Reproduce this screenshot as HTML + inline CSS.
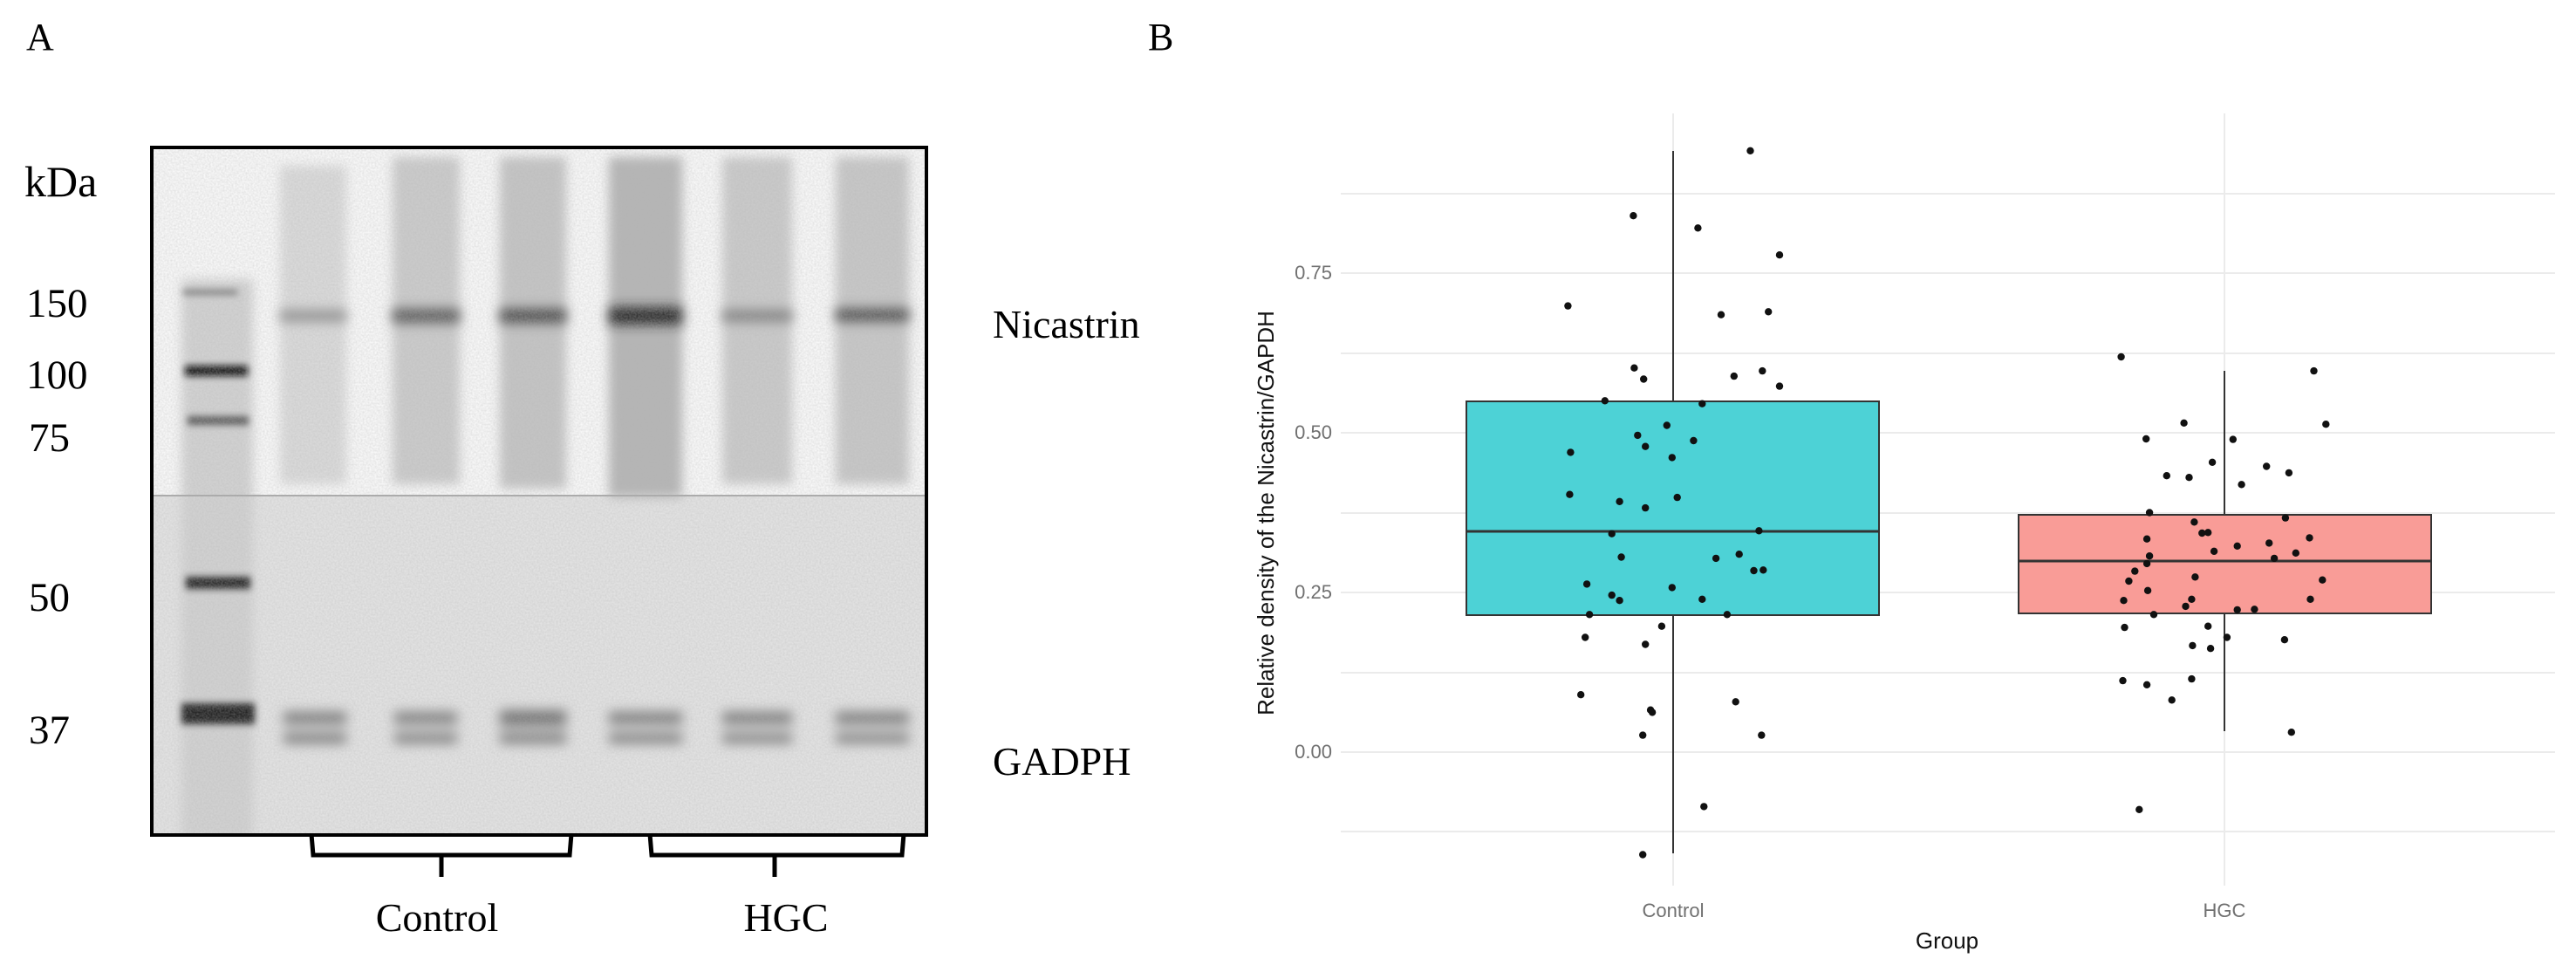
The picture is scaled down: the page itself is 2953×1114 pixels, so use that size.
<!DOCTYPE html>
<html><head><meta charset="utf-8">
<style>
html,body{margin:0;padding:0;background:#fff;}
svg{display:block;}
.t{font-family:"Liberation Serif",serif;fill:#000;}
.s{font-family:"Liberation Sans",sans-serif;}
</style></head>
<body>
<svg id="sv" width="2953" height="1114" viewBox="0 0 2953 1114" xmlns="http://www.w3.org/2000/svg">
<defs>
<filter id="b6" x="-20%" y="-50%" width="140%" height="200%"><feGaussianBlur stdDeviation="7"/></filter>
<filter id="b3" x="-20%" y="-50%" width="140%" height="200%"><feGaussianBlur stdDeviation="4"/></filter>
<filter id="b10" x="-30%" y="-10%" width="160%" height="120%"><feGaussianBlur stdDeviation="6"/></filter>
<filter id="noise" x="0" y="0" width="100%" height="100%"><feTurbulence type="fractalNoise" baseFrequency="0.5" numOctaves="2" seed="3"/><feColorMatrix values="0 0 0 0 0.45  0 0 0 0 0.45  0 0 0 0 0.45  0 0 0 0.5 -0.1"/></filter>
<clipPath id="cb"><rect x="175" y="170" width="886" height="786"/></clipPath>
</defs>
<rect width="2953" height="1114" fill="#fff"/>
<!-- Panel A -->
<text class="t" x="30" y="57" font-size="44">A</text>
<text class="t" x="28" y="225" font-size="50">kDa</text>
<text class="t" x="30" y="363" font-size="47">150</text>
<text class="t" x="30" y="445" font-size="47">100</text>
<text class="t" x="33" y="517" font-size="47">75</text>
<text class="t" x="33" y="700" font-size="47">50</text>
<text class="t" x="33" y="852" font-size="47">37</text>
<g clip-path="url(#cb)">
<rect x="175" y="170" width="886" height="786" fill="#f9f9f9"/>
<rect x="175" y="568" width="886" height="390" fill="#e3e3e3"/>
<rect x="208" y="320" width="82" height="640" fill="#d2d2d2" filter="url(#b10)"/>
<g filter="url(#b10)">
<rect x="321" y="190" width="76" height="365" fill="#dadada"/>
<rect x="450" y="180" width="77" height="375" fill="#cbcbcb"/>
<rect x="573" y="180" width="76" height="380" fill="#c4c4c4"/>
<rect x="698" y="180" width="84" height="390" fill="#b5b5b5"/>
<rect x="828" y="180" width="80" height="375" fill="#cacaca"/>
<rect x="958" y="180" width="84" height="375" fill="#c7c7c7"/>
</g>
<line x1="175" y1="568" x2="1061" y2="568" stroke="#aaa" stroke-width="2"/>
<g filter="url(#b6)">
<rect x="321" y="356" width="76" height="12" fill="#888"/>
<rect x="450" y="354" width="77" height="16" fill="#555"/>
<rect x="573" y="354" width="76" height="16" fill="#444"/>
<rect x="698" y="352" width="84" height="20" fill="#222"/>
<rect x="828" y="356" width="80" height="12" fill="#777"/>
<rect x="958" y="354" width="84" height="14" fill="#444"/>
<rect x="325" y="816" width="72" height="14" fill="#777"/>
<rect x="325" y="840" width="72" height="12" fill="#777"/>
<rect x="452" y="816" width="72" height="14" fill="#7a7a7a"/>
<rect x="452" y="840" width="72" height="12" fill="#7a7a7a"/>
<rect x="573" y="814" width="76" height="18" fill="#6f6f6f"/>
<rect x="573" y="840" width="76" height="12" fill="#777"/>
<rect x="698" y="816" width="84" height="14" fill="#777"/>
<rect x="698" y="840" width="84" height="12" fill="#7a7a7a"/>
<rect x="828" y="816" width="80" height="14" fill="#777"/>
<rect x="828" y="840" width="80" height="12" fill="#7f7f7f"/>
<rect x="958" y="816" width="84" height="14" fill="#777"/>
<rect x="958" y="840" width="84" height="12" fill="#7f7f7f"/>
</g>
<g filter="url(#b3)">
<rect x="210" y="332" width="62" height="6" fill="#777"/>
<rect x="212" y="419" width="72" height="12" fill="#111"/>
<rect x="215" y="477" width="70" height="10" fill="#555"/>
<rect x="213" y="661" width="74" height="14" fill="#222"/>
<rect x="208" y="806" width="84" height="24" fill="#222"/>
</g>
<rect x="175" y="170" width="886" height="786" filter="url(#noise)"/>
</g>
<rect x="174" y="169" width="888" height="788" fill="none" stroke="#000" stroke-width="4"/>
<path d="M357 956 L359 980 L653 980 L655 956 M506 980 L506 1005" fill="none" stroke="#000" stroke-width="5"/>
<path d="M745 956 L747 980 L1034 980 L1036 956 M888 980 L888 1005" fill="none" stroke="#000" stroke-width="5"/>
<text class="t" x="501" y="1067" font-size="46" text-anchor="middle">Control</text>
<text class="t" x="901" y="1067" font-size="46" text-anchor="middle">HGC</text>
<text class="t" x="1138" y="387" font-size="46">Nicastrin</text>
<text class="t" x="1138" y="888" font-size="46">GADPH</text>
<!-- Panel B -->
<text class="t" x="1316" y="57" font-size="44">B</text>
<g stroke="#ebebeb" stroke-width="2">
<line x1="1537" y1="953" x2="2929" y2="953"/><line x1="1537" y1="862" x2="2929" y2="862"/>
<line x1="1537" y1="771" x2="2929" y2="771"/><line x1="1537" y1="679" x2="2929" y2="679"/>
<line x1="1537" y1="588" x2="2929" y2="588"/><line x1="1537" y1="496" x2="2929" y2="496"/>
<line x1="1537" y1="405" x2="2929" y2="405"/><line x1="1537" y1="313" x2="2929" y2="313"/>
<line x1="1537" y1="222" x2="2929" y2="222"/>
<line x1="1918" y1="130" x2="1918" y2="1015"/><line x1="2550" y1="130" x2="2550" y2="1015"/>
</g>
<g class="s" font-size="22" fill="#707070" text-anchor="end">
<text x="1527" y="320">0.75</text><text x="1527" y="503">0.50</text>
<text x="1527" y="686">0.25</text><text x="1527" y="869">0.00</text>
</g>
<text class="s" x="0" y="0" font-size="26" fill="#111" text-anchor="middle" transform="translate(1460,588) rotate(-90)">Relative density of the Nicastrin/GAPDH</text>
<g stroke="#333" stroke-width="2">
<line x1="1918" y1="173" x2="1918" y2="978"/>
<rect x="1681" y="460" width="473" height="245" fill="#4dd2d6"/>
<line x1="1681" y1="609" x2="2154" y2="609" stroke-width="3"/>
<line x1="2550" y1="425" x2="2550" y2="838"/>
<rect x="2314" y="590" width="473" height="113" fill="#f99c97"/>
<line x1="2314" y1="643" x2="2787" y2="643" stroke-width="3"/>
</g>
<g id="pts" fill="#111"></g>
<g class="s" font-size="22" fill="#707070" text-anchor="middle">
<text x="1918" y="1051">Control</text><text x="2550" y="1051">HGC</text>
</g>
<text class="s" x="2232" y="1087" font-size="26" fill="#111" text-anchor="middle">Group</text>
</svg>
<script>
var P=[[615,168],[479,279],[554,300],[649,346],[403,433],[581,448],[636,443],[480,539],[491,558],[596,553],[629,544],[649,570],[446,595],[559,600],[518,637],[484,654],[549,663],[406,683],[493,673],[524,692],[405,755],[463,767],[530,760],[493,778],[454,822],[625,817],[465,862],[575,864],[602,857],[619,885],[630,884],[425,908],[524,914],[454,927],[463,936],[559,934],[428,960],[588,960],[512,980],[423,999],[493,1011],[418,1097],[598,1109],[499,1123],[501,1127],[490,1166],[628,1166],[561,1288],[490,1370],
[1046,520],[1270,544],[1119,633],[1284,635],[1075,660],[1176,661],[1152,700],[1215,707],[1099,723],[1125,726],[1241,718],[1186,738],[1079,786],[1237,795],[1131,802],[1140,821],[1147,820],[1076,831],[1265,829],[1181,843],[1218,838],[1154,852],[1249,855],[1079,860],[1224,864],[1076,873],[1062,886],[1132,896],[1055,903],[1280,901],[1077,919],[1128,934],[1049,936],[1266,934],[1121,946],[1084,960],[1181,952],[1201,951],[1147,980],[1050,982],[1169,999],[1236,1003],[1129,1013],[1150,1018],[1048,1073],[1076,1080],[1128,1070],[1105,1106],[1244,1161],[1067,1293]];
var g=document.getElementById('pts'),s='';
for(var i=0;i<P.length;i++){var x=1400+P[i][0]/1.014,y=60+P[i][1]/1.49;s+='<circle cx="'+x.toFixed(1)+'" cy="'+y.toFixed(1)+'" r="4.2"/>';}
g.innerHTML=s;
</script>
</body></html>
